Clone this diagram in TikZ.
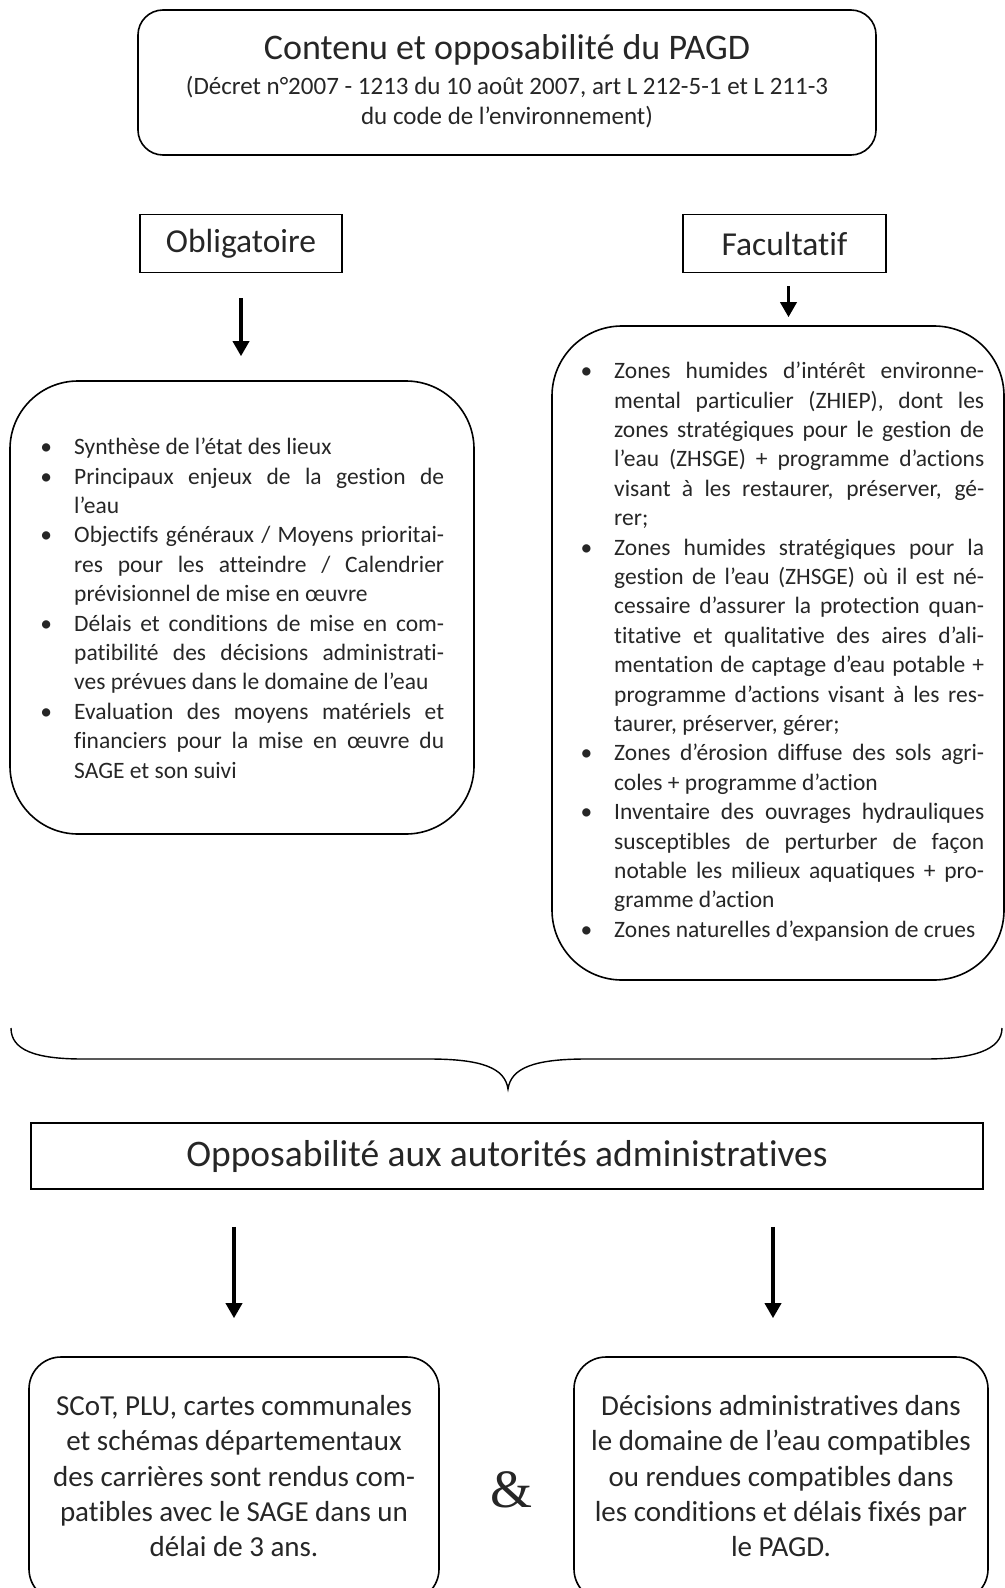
\documentclass[tikz,border=0pt]{standalone}
\usepackage{fontspec}
\setmainfont{Carlito}[Ligatures=NoCommon]
\newfontfamily\ampfont{Liberation Serif}
\usetikzlibrary{arrows.meta}
\definecolor{txt}{HTML}{262626}
\newcommand\jl[1]{\makebox[370bp][s]{#1}}
\newcommand\fl[1]{\makebox[370bp][l]{#1}}
\newcommand\itm{\makebox[0pt][r]{\textbullet\hspace{22bp}}}
\tikzset{
  sqbox/.style={draw=black, line width=1.6bp, inner sep=0pt},
  rbox/.style={draw=black, line width=1.6bp, inner sep=0pt, rounded corners=#1},
  arr/.style={draw=black, line width=3.5bp, -{Triangle[width=16bp,length=15bp]}},
  listtxt/.style={inner sep=0pt, align=left, text=txt, font=\fontsize{23.5bp}{29.4bp}\selectfont},
  bottxt/.style={inner sep=0pt, align=center, text=txt, font=\fontsize{29bp}{35.2bp}\selectfont},
  lbl/.style={inner sep=0pt, text=txt},
}
\begin{document}
\begin{tikzpicture}[x=1bp, y=-1bp]
\useasboundingbox (0,0) rectangle (1004,1588);

% top box
\node[rbox=25bp, minimum width=738bp, minimum height=145bp] (top) at (507,82.5) {};
\node[lbl, anchor=base, font=\fontsize{36bp}{40bp}\selectfont] (title) at (507,60) {Contenu et opposabilité du PAGD};
\node[lbl, anchor=base, font=\fontsize{25bp}{30bp}\selectfont] (sub1) at (507,95) {(Décret n°2007 - 1213 du 10 août 2007, art L 212-5-1 et L 211-3};
\node[lbl, anchor=base, font=\fontsize{25bp}{30bp}\selectfont] (sub2) at (507,125) {du code de l’environnement)};

% Obligatoire / Facultatif
\node[sqbox, minimum width=202bp, minimum height=58bp, text=txt, font=\fontsize{33.5bp}{36bp}\selectfont] (obl) at (241,243.5) {Obligatoire};
\node[sqbox, minimum width=203bp, minimum height=58bp, text=txt, font=\fontsize{33.5bp}{36bp}\selectfont] (fac) at (784.5,243.5) {Facultatif};

% list boxes
\node[rbox=68bp, minimum width=464bp, minimum height=453bp] (lbox) at (242,607.5) {};
\node[rbox=70bp, minimum width=452bp, minimum height=654bp] (rbox) at (778,653) {};

\draw[arr, shorten <=25bp, shorten >=24bp] (obl.south) -- (obl.south |- lbox.north);
\draw[arr, shorten <=13bp, shorten >=8bp] ([xshift=4bp]fac.south) -- ([xshift=4bp]fac.south |- rbox.north);

\node[listtxt, anchor=north west] (ltxt) at (74,434) {%
\strut\itm\fl{Synthèse de l’état des lieux}\\
\strut\itm\jl{Principaux enjeux de la gestion de}\\
\strut\fl{l’eau}\\
\strut\itm\jl{Objectifs généraux / Moyens prioritai-}\\
\strut\jl{res pour les atteindre / Calendrier}\\
\strut\fl{prévisionnel de mise en œuvre}\\
\strut\itm\jl{Délais et conditions de mise en com-}\\
\strut\jl{patibilité des décisions administrati-}\\
\strut\fl{ves prévues dans le domaine de l’eau}\\
\strut\itm\jl{Evaluation des moyens matériels et}\\
\strut\jl{financiers pour la mise en œuvre du}\\
\strut\fl{SAGE et son suivi}};

\node[listtxt, anchor=north west] (rtxt) at (614,358) {%
\strut\itm\jl{Zones humides d’intérêt environne-}\\
\strut\jl{mental particulier (ZHIEP), dont les}\\
\strut\jl{zones stratégiques pour le gestion de}\\
\strut\jl{l’eau (ZHSGE) + programme d’actions}\\
\strut\jl{visant à les restaurer, préserver, gé-}\\
\strut\fl{rer;}\\
\strut\itm\jl{Zones humides stratégiques pour la}\\
\strut\jl{gestion de l’eau (ZHSGE) où il est né-}\\
\strut\jl{cessaire d’assurer la protection quan-}\\
\strut\jl{titative et qualitative des aires d’ali-}\\
\strut\jl{mentation de captage d’eau potable +}\\
\strut\jl{programme d’actions visant à les res-}\\
\strut\fl{taurer, préserver, gérer;}\\
\strut\itm\jl{Zones d’érosion diffuse des sols agri-}\\
\strut\fl{coles + programme d’action}\\
\strut\itm\jl{Inventaire des ouvrages hydrauliques}\\
\strut\jl{susceptibles de perturber de façon}\\
\strut\jl{notable les milieux aquatiques + pro-}\\
\strut\fl{gramme d’action}\\
\strut\itm\fl{Zones naturelles d’expansion de crues}};

% brace
\draw[line width=1.4bp] (11,1028) .. controls (11,1050) and (35,1059) .. (83,1059) -- (429,1059)
  .. controls (482,1059) and (505,1068) .. (508,1089)
  .. controls (511,1068) and (534,1059) .. (586,1059) -- (925,1059)
  .. controls (973,1059) and (1002,1050) .. (1002,1028);

% Opposabilite
\node[sqbox, minimum width=952bp, minimum height=66bp, text=txt, font=\fontsize{37.5bp}{40bp}\selectfont] (opp) at (507,1156) {Opposabilité aux autorités administratives};

% bottom boxes
\node[rbox=32bp, minimum width=410bp, minimum height=244bp] (lbot) at (234,1479) {};
\node[rbox=32bp, minimum width=414bp, minimum height=244bp] (rbot) at (781,1479) {};

\draw[arr, shorten <=37bp, shorten >=38bp] (opp.south -| lbot.north) -- (lbot.north);
\draw[arr, shorten <=37bp, shorten >=38bp] ([xshift=-8bp]opp.south -| rbot.north) -- ([xshift=-8bp]rbot.north);

\node[bottxt] (lbt) at (234,1479) {%
\strut SCoT, PLU, cartes communales\\
\strut et schémas départementaux\\
\strut des carrières sont rendus com-\\
\strut patibles avec le SAGE dans un\\
\strut délai de 3 ans.};
\node[bottxt] (rbt) at (781,1479) {%
\strut Décisions administratives dans\\
\strut le domaine de l’eau compatibles\\
\strut ou rendues compatibles dans\\
\strut les conditions et délais fixés par\\
\strut le PAGD.};

\node[lbl, font=\ampfont\fontsize{54bp}{60bp}\selectfont] (amp) at (511,1490) {\&};
\end{tikzpicture}
\end{document}
